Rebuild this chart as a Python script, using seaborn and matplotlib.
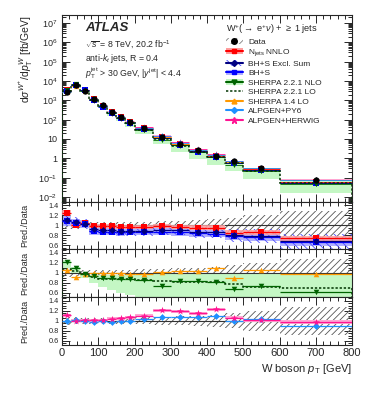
import numpy as np
import matplotlib
matplotlib.use("Agg")
import matplotlib.pyplot as plt
import seaborn as sns
from matplotlib.patches import Patch
from matplotlib.lines import Line2D
from matplotlib.ticker import FixedLocator, MultipleLocator, LogLocator, FuncFormatter, NullFormatter

# W boson pT bins [GeV]
bin_edges = [0, 25, 50, 75, 100, 125, 150, 175, 200, 250, 300, 350, 400, 450, 500, 600, 800]

# measured cross section [fb/GeV] and relative uncertainty
data_xsec = [2700, 6000, 3200, 1200, 550, 250, 135, 75, 36, 12.5, 5.6, 2.6, 1.35, 0.7, 0.31, 0.08]
data_unc = [0.08, 0.07, 0.06, 0.06, 0.06, 0.06, 0.06, 0.06, 0.07, 0.08, 0.09, 0.10, 0.12, 0.15, 0.20, 0.28]

# prediction / data
nnlo_ratio = [1.25, 1.00, 1.04, 0.99, 0.98, 0.98, 0.97, 0.97, 0.97, 0.98, 0.96, 0.95, 0.95, 0.85, 0.86, 0.74]
nnlo_unc = [0.05, 0.04, 0.04, 0.04, 0.04, 0.04, 0.04, 0.04, 0.04, 0.04, 0.04, 0.05, 0.05, 0.05, 0.05, 0.05]
excl_ratio = [1.10, 1.07, 1.02, 0.92, 0.90, 0.90, 0.89, 0.89, 0.89, 0.90, 0.90, 0.87, 0.86, 0.80, 0.78, 0.68]
excl_unc = [0.12, 0.10, 0.10, 0.10, 0.10, 0.10, 0.10, 0.10, 0.10, 0.10, 0.10, 0.12, 0.12, 0.13, 0.14, 0.15]
bhs_ratio = [1.08, 1.05, 1.02, 0.88, 0.87, 0.87, 0.86, 0.87, 0.87, 0.87, 0.86, 0.84, 0.83, 0.78, 0.76, 0.66]
bhs_unc = [0.10, 0.08, 0.08, 0.07, 0.07, 0.07, 0.07, 0.07, 0.07, 0.07, 0.07, 0.07, 0.07, 0.07, 0.07, 0.08]

sherpa_nlo_ratio = [1.22, 1.10, 0.98, 0.93, 0.90, 0.90, 0.88, 0.88, 0.86, 0.74, 0.83, 0.83, 0.82, 0.67, 0.74, 0.62]
sherpa_nlo_lo = [1.10, 1.00, 0.90, 0.80, 0.72, 0.65, 0.60, 0.55, 0.50, 0.45, 0.40, 0.35, 0.33, 0.30, 0.28, 0.20]
sherpa_nlo_hi = [1.25, 1.12, 1.00, 0.95, 0.95, 0.95, 0.95, 0.95, 0.97, 0.97, 0.97, 0.97, 0.97, 0.97, 1.00, 1.00]
sherpa_lo_ratio = [1.08, 1.04, 0.98, 0.92, 0.88, 0.88, 0.87, 0.87, 0.86, 0.83, 0.82, 0.82, 0.82, 0.78, 0.71, 0.70]
sherpa14_ratio = [1.05, 0.91, 0.97, 1.00, 1.00, 0.99, 0.99, 0.98, 0.98, 1.01, 1.03, 1.04, 1.10, 0.90, 1.05, 0.97]

alpgen_py6_ratio = [1.00, 1.02, 1.00, 0.98, 0.99, 0.98, 0.99, 1.00, 1.03, 1.08, 1.08, 1.07, 1.09, 1.00, 1.04, 0.90]
alpgen_hw_ratio = [1.11, 1.00, 1.01, 1.01, 1.01, 1.04, 1.05, 1.07, 1.10, 1.21, 1.19, 1.15, 1.23, 1.06, 1.01, 0.97]
alpgen_hw_unc = [0.03, 0.03, 0.03, 0.03, 0.03, 0.03, 0.03, 0.03, 0.03, 0.03, 0.03, 0.03, 0.03, 0.03, 0.03, 0.04]

edges = np.array(bin_edges, dtype=float)
centers = 0.5 * (edges[:-1] + edges[1:])
data = np.array(data_xsec)
dunc = np.array(data_unc)

RED, LRED = "#ff0000", "#ff9f9f"
NAVY, HBLUE = "#000080", "#4a4aff"
BLUE, LBLUE = "#0000ff", "#b0b0ff"
DGREEN, LGREEN = "#006400", "#c4f7c4"
ORANGE = "#ff9900"
SKY = "#1e90ff"
PINK, LPINK = "#ff1493", "#ffa6d2"

sns.set_theme(style="ticks")
plt.rcParams["font.family"] = ["Liberation Sans", "DejaVu Sans"]
plt.rcParams["mathtext.fontset"] = "custom"
plt.rcParams["mathtext.rm"] = "Liberation Sans"
plt.rcParams["mathtext.it"] = "Liberation Sans:italic"
plt.rcParams["hatch.linewidth"] = 0.6

fig = plt.figure(figsize=(3.74, 3.96), dpi=100)
L, W = 62 / 374, 290 / 374
def frac(top, bottom):
    return [L, 1 - bottom / 396, W, (bottom - top) / 396]

ax0 = fig.add_axes(frac(15, 202))
ax1 = fig.add_axes(frac(202, 249), sharex=ax0)
ax2 = fig.add_axes(frac(249, 297), sharex=ax0)
ax3 = fig.add_axes(frac(297, 345), sharex=ax0)


def band(ax, lo, hi, **kw):
    ax.stairs(hi, edges, baseline=lo, fill=True, linewidth=0, **kw)


def pred(ax, vals, color, marker, size=14, z=4, lw=0.9):
    ax.hlines(vals, edges[:-1], edges[1:], colors=color, linewidth=lw, zorder=z)
    sns.scatterplot(x=centers, y=vals, marker=marker, color=color, s=size,
                    edgecolor=color, linewidth=0, ax=ax, zorder=z + 1, legend=False)


# ---------- main panel ----------
band(ax0, data * np.array(sherpa_nlo_lo), data * np.array(sherpa_nlo_hi), color=LGREEN, zorder=1)
band(ax0, data * (np.array(alpgen_hw_ratio) - alpgen_hw_unc), data * (np.array(alpgen_hw_ratio) + alpgen_hw_unc), color=LPINK, zorder=2)
band(ax0, data * (np.array(nnlo_ratio) - nnlo_unc), data * (np.array(nnlo_ratio) + nnlo_unc), color=LRED, zorder=2)
band(ax0, data * (np.array(bhs_ratio) - bhs_unc), data * (np.array(bhs_ratio) + bhs_unc), color=LBLUE, zorder=2)
pred(ax0, data * np.array(nnlo_ratio), RED, "s", lw=0.6)
pred(ax0, data * np.array(alpgen_hw_ratio), PINK, "*", size=22, lw=0.6)
pred(ax0, data * np.array(sherpa14_ratio), ORANGE, "^", lw=0.6)
pred(ax0, data * np.array(alpgen_py6_ratio), SKY, "D", size=10, lw=0.6)
pred(ax0, data * np.array(bhs_ratio), BLUE, "s", lw=0.6)
pred(ax0, data * np.array(excl_ratio), NAVY, "D", size=10, lw=0.6)
pred(ax0, data * np.array(sherpa_nlo_ratio), DGREEN, "v", lw=0.6)
ax0.stairs(data * np.array(sherpa_lo_ratio), edges, color="#003300", linestyle=(0, (1.5, 1.2)), linewidth=1.1, zorder=6)
ax0.errorbar(centers, data, yerr=data * dunc, fmt="none", ecolor="black", elinewidth=0.8, zorder=7)
sns.scatterplot(x=centers, y=data, marker="o", color="black", s=20, linewidth=0, ax=ax0, zorder=8, legend=False)

ax0.set_yscale("log")
ax0.set_ylim(5.5e-3, 2.6e7)
ax0.yaxis.set_major_locator(LogLocator(base=10, numticks=20))
ax0.yaxis.set_minor_locator(LogLocator(base=10, subs=np.arange(2, 10), numticks=200))
ax0.yaxis.set_minor_formatter(NullFormatter())


def logfmt(v, pos):
    e = int(round(np.log10(v)))
    if e == 0:
        return "1"
    if e == 1:
        return "10"
    return r"$10^{%d}$" % e


ax0.yaxis.set_major_formatter(FuncFormatter(logfmt))

ax0.text(0.079, 0.93, "ATLAS", transform=ax0.transAxes, fontsize=9.5, fontweight="bold",
         fontstyle="italic", va="center")
ax0.text(0.079, 0.84, r"$\sqrt{s}$ = 8 TeV, 20.2 fb$^{-1}$", transform=ax0.transAxes, fontsize=6.3, va="center")
ax0.text(0.079, 0.765, r"anti-$k_{t}$ jets, R = 0.4", transform=ax0.transAxes, fontsize=6.3, va="center")
ax0.text(0.079, 0.69, r"$p_{\mathrm{T}}^{\mathrm{jet}}$ > 30 GeV, $|y^{\mathrm{jet}}|$ < 4.4",
         transform=ax0.transAxes, fontsize=6.3, va="center")

handles = [
    (Patch(facecolor="white", edgecolor="grey", hatch="////", linewidth=0), Line2D([], [], color="black", marker="o", markersize=4, linestyle="none")),
    (Patch(facecolor=LRED, linewidth=0), Line2D([], [], color=RED, marker="s", markersize=3.5)),
    (Patch(facecolor="white", edgecolor=HBLUE, hatch="\\\\\\\\", linewidth=0), Line2D([], [], color=NAVY, marker="D", markersize=3)),
    (Patch(facecolor=LBLUE, linewidth=0), Line2D([], [], color=BLUE, marker="s", markersize=3.5)),
    (Patch(facecolor=LGREEN, linewidth=0), Line2D([], [], color=DGREEN, marker="v", markersize=3.5)),
    Line2D([], [], color="#003300", linestyle=(0, (1.5, 1.2)), linewidth=1.1),
    Line2D([], [], color=ORANGE, marker="^", markersize=3.5),
    Line2D([], [], color=SKY, marker="D", markersize=3),
    Line2D([], [], color=PINK, marker="*", markersize=4.5),
]
labels = ["Data", r"N$_{\mathrm{jets}}$ NNLO", "BH+S Excl. Sum", "BH+S", "SHERPA 2.2.1 NLO",
          "SHERPA 2.2.1 LO", "SHERPA 1.4 LO", "ALPGEN+PY6", "ALPGEN+HERWIG"]
leg = ax0.legend(handles, labels, loc="upper left", bbox_to_anchor=(0.545, 0.99), frameon=False,
                 fontsize=6.0, labelspacing=0.2, handlelength=2.0, handletextpad=0.7, borderpad=0.2,
                 title=r"W$^{+}$($\rightarrow$ e$^{+}\nu$) + $\geq$ 1 jets", title_fontsize=6.6,
                 alignment="left")

# ---------- ratio panels ----------
for ax in (ax1, ax2, ax3):
    band(ax, 1 - dunc, 1 + dunc, facecolor="none", edgecolor="#555555", hatch="/////", zorder=1)
    ax.axhline(1, color="#333333", linewidth=0.8, zorder=2)

# panel 1: fixed order
band(ax1, np.array(bhs_ratio) - bhs_unc, np.array(bhs_ratio) + bhs_unc, color=LBLUE, zorder=2)
band(ax1, np.array(excl_ratio) - excl_unc, np.array(excl_ratio) + excl_unc, facecolor="none",
     edgecolor=HBLUE, hatch="\\\\\\\\", zorder=3)
band(ax1, np.array(nnlo_ratio) - nnlo_unc, np.array(nnlo_ratio) + nnlo_unc, color=LRED, alpha=0.85, zorder=3)
pred(ax1, nnlo_ratio, RED, "s", size=16)
pred(ax1, bhs_ratio, BLUE, "s", size=16)
pred(ax1, excl_ratio, NAVY, "D", size=12)

# panel 2: SHERPA
band(ax2, sherpa_nlo_lo, sherpa_nlo_hi, color=LGREEN, zorder=1.5)
ax2.stairs(sherpa_lo_ratio, edges, color="#003300", linestyle=(0, (1.5, 1.2)), linewidth=1.1, zorder=4)
pred(ax2, sherpa14_ratio, ORANGE, "^", size=16)
pred(ax2, sherpa_nlo_ratio, DGREEN, "v", size=16)

# panel 3: ALPGEN
band(ax3, np.array(alpgen_hw_ratio) - alpgen_hw_unc, np.array(alpgen_hw_ratio) + alpgen_hw_unc, color=LPINK, zorder=2)
pred(ax3, alpgen_py6_ratio, SKY, "D", size=12)
pred(ax3, alpgen_hw_ratio, PINK, "*", size=28)

for ax in (ax1, ax2, ax3):
    ax.set_ylim(0.52, 1.47)
    ax.yaxis.set_major_locator(FixedLocator([0.6, 0.8, 1.0, 1.2, 1.4]))
    ax.yaxis.set_major_formatter(FuncFormatter(lambda v, p: "1" if abs(v - 1) < 1e-6 else "%.1f" % v))
    ax.yaxis.set_minor_locator(MultipleLocator(0.05))
    ax.tick_params(axis="y", labelsize=5.3, pad=2.5)

for ax in (ax0, ax1, ax2, ax3):
    ax.set_xlim(0, 800)
    ax.xaxis.set_major_locator(MultipleLocator(100))
    ax.xaxis.set_minor_locator(MultipleLocator(20))
    ax.tick_params(which="both", direction="in", top=True, right=True, width=0.7)
    ax.tick_params(which="major", length=6)
    ax.tick_params(which="minor", length=3)
    for sp in ax.spines.values():
        sp.set_linewidth(0.8)
    ax.set_xlabel("")
    ax.set_ylabel("")
    ax.set_facecolor("white")
for ax in (ax0, ax1, ax2):
    ax.tick_params(axis="x", labelbottom=False)
ax0.tick_params(axis="y", labelsize=6.5)
ax3.tick_params(axis="x", labelsize=8, pad=2)

fig.text(0.072, 0.962, r"d$\sigma^{W^{+}}$/d$p_{\mathrm{T}}^{W}$ [fb/GeV]", rotation=90,
         ha="center", va="top", fontsize=7.5)
for top, bottom in ((202, 249), (249, 297), (297, 345)):
    fig.text(0.067, 1 - (top + bottom) / 2 / 396, "Pred./Data", rotation=90, ha="center",
             va="center", fontsize=6.5)
fig.text(352 / 374, 1 - 369 / 396, r"W boson $p_{\mathrm{T}}$ [GeV]", ha="right", va="center", fontsize=8)

fig.savefig("out.png", dpi=100, facecolor="white")
